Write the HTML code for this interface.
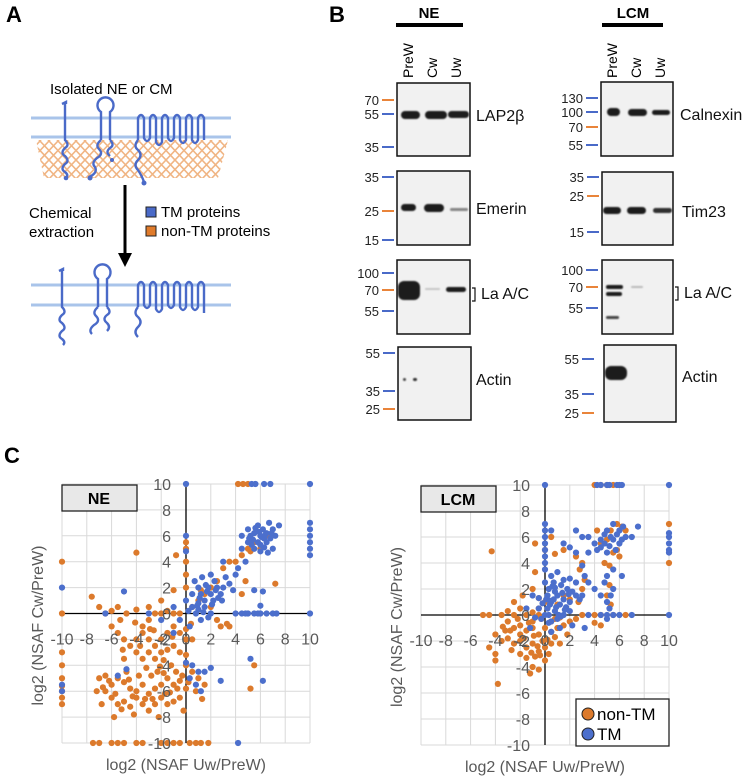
<!DOCTYPE html>
<html><head><meta charset="utf-8"><style>
body{margin:0;background:#fff;}
svg{display:block;font-family:"Liberation Sans",Arial,sans-serif;}
</style></head><body>
<svg id="fig" width="747" height="779" viewBox="0 0 747 779" xmlns="http://www.w3.org/2000/svg">
<defs>
<filter id="bl" x="-50%" y="-100%" width="200%" height="300%"><feGaussianBlur stdDeviation="0.9"/></filter>
<clipPath id="meshclip"><polygon points="36,140 228,140 218,178 44,178"/></clipPath>
</defs>

<!-- Panel A -->
<g>
<text x="6" y="22" font-size="22" font-weight="bold">A</text>
<text x="50" y="94" font-size="15">Isolated NE or CM</text>
<g id="mesh" clip-path="url(#meshclip)" stroke="#f0b584" stroke-width="1.6"></g>
<g stroke="#a9c4ea" stroke-width="3">
<line x1="31" y1="118" x2="231" y2="118"/><line x1="31" y1="137" x2="231" y2="137"/></g>
<g fill="none" stroke="#4a6ac8" stroke-width="2.4">
<path d="M62,104 l4,-2 l0,2 M65,104 V140 q5,5 0,8 q-5,5 0,8 q5,5 0,8 q-5,5 0,8 q4,3 1,6"/>
<path d="M101,140 V112 a8,8 0 1 1 9,0 V140"/>
<path d="M101,140 q-6,5 -2,9 q5,5 -2,9 q-6,5 -2,9 q3,6 -6,10"/>
<path d="M110,140 q5,5 0,8 q-5,4 0,8"/>
<path d="M138,140 V118 q3,-6 6,0 V138 q3,6 6,0 V118 q3,-6 6,0 V142 q3,6 6,0 V118 q3,-6 6,0 V138 q3,6 6,0 V118 q3,-6 6,0 V140 q3,6 6,0 V118 q3,-6 6,0 V140 q3,6 6,0 V118 q3,-6 6,0 V140"/>
<path d="M138,140 q-5,6 0,10 q5,5 0,10 q-5,5 0,10 q4,6 6,12"/>
</g>
<g fill="#4a6ac8"><circle cx="66" cy="178" r="2.3"/><circle cx="90" cy="178" r="2.5"/><circle cx="112" cy="160" r="2"/><circle cx="144" cy="183" r="2.5"/></g>
<line x1="125" y1="185" x2="125" y2="255" stroke="#000" stroke-width="3"/>
<polygon points="118,253 132,253 125,267" fill="#000"/>
<text x="29" y="218" font-size="15"><tspan x="29">Chemical</tspan><tspan x="29" dy="19">extraction</tspan></text>
<rect x="146" y="207" width="10" height="10" fill="#4a6ac8" stroke="#222" stroke-width="1"/>
<text x="161" y="217" font-size="15">TM proteins</text>
<rect x="146" y="226" width="10" height="10" fill="#e07b2b" stroke="#222" stroke-width="1"/>
<text x="161" y="236" font-size="15">non-TM proteins</text>
<g stroke="#a9c4ea" stroke-width="3">
<line x1="31" y1="285" x2="231" y2="285"/><line x1="31" y1="305" x2="231" y2="305"/></g>
<g fill="none" stroke="#4a6ac8" stroke-width="2.4" transform="translate(-3,167)">
<path d="M62,104 l4,-2 l0,2 M65,104 V140 q5,5 0,8 q-5,5 0,8 q5,5 0,8 q-5,5 0,8 q4,3 1,6"/>
<path d="M101,140 V112 a8,8 0 1 1 9,0 V140"/>
<path d="M101,140 q-6,5 -2,9 q5,5 -2,9 q-6,5 -2,9"/>
<path d="M110,140 q5,5 0,8 q-5,4 0,8 q4,4 0,8"/>
<path d="M141,140 V118 q3,-6 6,0 V138 q3,6 6,0 V118 q3,-6 6,0 V142 q3,6 6,0 V118 q3,-6 6,0 V138 q3,6 6,0 V118 q3,-6 6,0 V140 q3,6 6,0 V118 q3,-6 6,0 V140 q3,6 6,0 V118 q3,-6 6,0 V146"/>
<path d="M141,140 q-5,6 0,10 q5,5 0,10 q-5,5 0,10"/>
</g>
</g>

<!-- Panel B -->
<g id="panelB">
<text x="329" y="22" font-size="22" font-weight="bold">B</text>
<text x="429" y="18" font-size="15" font-weight="bold" text-anchor="middle">NE</text>
<rect x="396" y="23" width="67" height="4" fill="#000"/>
<text x="633" y="18" font-size="15" font-weight="bold" text-anchor="middle">LCM</text>
<rect x="602" y="23" width="61" height="4" fill="#000"/>
</g>

<!-- Panel C -->
<g>
<text x="4" y="463" font-size="22" font-weight="bold">C</text>
</g>
<g id="plotNE"></g>
<g id="plotLCM"></g>
</svg>
<script>
const NS="http://www.w3.org/2000/svg";
function mk(tag,attrs,parent){const e=document.createElementNS(NS,tag);for(const k in attrs)e.setAttribute(k,attrs[k]);parent.appendChild(e);return e;}

const mesh=document.getElementById('mesh');
for(let i=-60;i<=260;i+=9){mk('line',{x1:i,y1:140,x2:i+38,y2:180},mesh);mk('line',{x1:i+38,y1:140,x2:i,y2:180},mesh);}

const pb=document.getElementById('panelB');
const lanes=[["PreW",408,612],["Cw",432,636],["Uw",456,660]];
lanes.forEach(l=>{
  let t=mk('text',{x:0,y:0,'font-size':14,transform:`translate(${l[1]+5},78) rotate(-90)`},pb);t.textContent=l[0];
  
  
  t=mk('text',{x:0,y:0,'font-size':14,transform:`translate(${l[2]+5},78) rotate(-90)`},pb);t.textContent=l[0];
  
  
});
const blotBoxes=[
 {x:397,y:83,w:73,h:73,name:"LAP2β",lx:476,ly:121,mk:[["70",100,"o"],["55",114,"b"],["35",147,"b"]],tx:394,bands:[[401,111,19,8,1],[425,111,22,8,1],[448,111,21,7,1]]},
 {x:397,y:171,w:73,h:74,name:"Emerin",lx:476,ly:214,mk:[["35",177,"b"],["25",211,"o"],["15",240,"b"]],tx:394,bands:[[401,204,15,7,1],[424,204,20,8,1],[450,208,18,3,0.5]]},
 {x:397,y:260,w:73,h:74,name:"La A/C",lx:481,ly:299,br:true,mk:[["100",273,"b"],["70",290,"o"],["55",311,"b"]],tx:394,bands:[[398,281,22,19,1],[425,288,15,2,0.2],[446,287,20,5,1]]},
 {x:398,y:347,w:73,h:73,name:"Actin",lx:476,ly:385,mk:[["55",353,"b"],["35",391,"b"],["25",409,"o"]],tx:395,bands:[[403,378,3,3,0.8],[413,378,4,3,0.9]]},
 {x:601,y:82,w:72,h:74,name:"Calnexin",lx:680,ly:120,mk:[["130",98,"b"],["100",112,"b"],["70",127,"o"],["55",145,"b"]],tx:598,bands:[[607,108,13,8,1],[628,109,19,7,1],[652,110,18,5,1]]},
 {x:602,y:172,w:71,h:73,name:"Tim23",lx:682,ly:217,mk:[["35",177,"b"],["25",196,"o"],["15",232,"b"]],tx:599,bands:[[603,207,18,7,1],[627,207,19,7,1],[653,208,19,5,0.9]]},
 {x:602,y:260,w:71,h:74,name:"La A/C",lx:684,ly:298,br:true,mk:[["100",270,"b"],["70",287,"o"],["55",308,"b"]],tx:598,bands:[[606,285,17,4,1],[606,292,16,4,1],[606,316,13,3,0.8],[631,286,12,2,0.25]]},
 {x:604,y:345,w:72,h:77,name:"Actin",lx:682,ly:382,mk:[["55",359,"b"],["35",394,"b"],["25",413,"o"]],tx:594,bands:[[605,366,22,14,1]]}
];
blotBoxes.forEach(b=>{
  const r=mk('rect',{x:b.x,y:b.y,width:b.w,height:b.h,fill:"#f1f1f1",stroke:"#111","stroke-width":1.5},pb);
  
  
  b.bands.forEach(d=>{mk('rect',{x:d[0],y:d[1],width:d[2],height:d[3],rx:Math.min(d[3]/2,6),fill:"#1e1e1e",opacity:d[4],filter:"url(#bl)"},pb);});
  b.mk.forEach(m=>{
    mk('line',{x1:b.tx-12,y1:m[1],x2:b.tx,y2:m[1],stroke:m[2]=="o"?"#e9843a":"#4a6ac8","stroke-width":2},pb);
    const t=mk('text',{x:b.tx-15,y:m[1]+5,'font-size':13,'text-anchor':'end',fill:"#222"},pb);t.textContent=m[0];
    
    
  });
  if(b.br){mk('path',{d:`M${b.lx-9},${b.ly-11} h3 v13 h-3`,fill:"none",stroke:"#111","stroke-width":1.2},pb);}
  const t=mk('text',{x:b.lx,y:b.ly,'font-size':16,fill:"#111"},pb);t.textContent=b.name;
  
  
});

// ---- Chart data ----
const tickValues=[-10,-8,-6,-4,-2,0,2,4,6,8,10];
const tickLabels=["-10","-8","-6","-4","-2","0","2","4","6","8","10"];
const neOrangeX=[-10,-10,-10,-10,-10,-10,-10,-10,-10,-7.5,-7,-6,-5.5,-5,-4,-3.5,-2,-1.5,-1,-0.5,0.3,0.8,1.2,1.8,4.2,4.6,5,-7.6,-7,-6.5,-6,-5.5,-5.3,-4.8,-4,-3.5,-3,-2.5,-2,-1.5,-1,-0.5,-6,-5.5,-5,-4.5,-4,-3.5,-3,-2.5,-2,-1.5,-1,-0.5,0,0.5,-3,-2.5,-2,-1.5,-1,-0.5,0,-4,-3.5,-5,-1.2,-2.3,-7,-6.5,-6,-5.5,-5,-4.5,-4,-3.5,-3,-2.5,-2,-1.5,-1,-0.5,0,-6.5,-6,-5.5,-5,-4.5,-4,-3.5,-3,-2.5,-2,-1.5,-1,-0.5,-6.8,-7.2,-4.8,-3.8,-2.8,-1.8,-0.8,0.5,1,1.5,0.8,-0.2,-2.2,-5.8,-4.2,-4,-0.8,0,0,0,0,0,0,0,0.5,1,1.5,2,2.5,3,3.5,4,4.5,5,5.5,6,6.5,5.2,2.5,3.3,3.5,4.5,4.8,7.2,5.2,5.5,2,1.2,2.8,-1,-2,-3,-6.2,-5.7,-4.3,-3.2,-2.7,-1.7,-0.7,-0.3,0.2,-5.2,-4.6,-3.3,-1.3,-2.1,-6.7,-3.7,-2.6,-1.1,0.4,1.3,-1.8,-2.9,-4.1,-5.1];
const neOrangeY=[4,0,-3,-4,-5,-5.6,-6,-6.5,-7,-10,-10,-10,-10,-10,-10,-10,-10,-10,-10,-10,-10,-10,-10,-10,10,10,10,1.3,0.5,0,0.2,0.5,-0.5,0,0.3,-1,0.5,0,0,0.2,0,0,-1,-1.5,-2,-2.5,-2,-1.5,-2,-2.5,-2,-1.5,-1,-1.5,-1.2,-2,-3,-3.5,-3,-2.8,-2.5,-3,-3.2,-3,-3.5,-3.5,-4,-4.5,-5,-4.8,-5.5,-5,-5.3,-5.8,-6,-5.5,-6.2,-5.8,-5.5,-5,-5.5,-5.2,-5.8,-6,-6.5,-7,-6.8,-7.2,-6.5,-7,-7.5,-7,-6.5,-7,-6.8,-6.5,-7,-6,-4.5,-4.8,-4.8,-4.6,-4.5,-4.5,-5,-5.5,-6,-7.5,-8,-8,-7.8,4.7,4.5,5,5.5,4,3,2,-2,-4,0.5,1,1.5,2,2.5,3.5,4,4,4.5,5,5.5,5,6,4.8,-0.5,-0.8,-1,1.5,2.5,2.3,-5.8,-4,0.5,1.8,-1,1.8,1,-0.5,-5.2,-6.2,-6.4,-4.2,-6.6,-6.2,-5.8,-4.8,-5.3,-7.4,-5.1,-6.6,-6.1,-4.1,-5.7,-2.5,-1.3,-1.8,-0.8,-6.6,-3.6,-1.2,-0.7,-2.8];
const neBlueX=[0,5.3,5.6,6.3,6.8,10,10,10,10,10,10,10,10,-10,-10,-10,-5,-6.5,-3,0,0,0.5,0.8,1,1.2,1.5,1.8,2,2.2,2.5,2.8,3,1,0.5,1.5,2,1.8,2.3,2.6,3.2,3.5,4,4.2,3.8,1.2,0.3,-0.5,-1,0.7,1.3,2,1.7,1,0.2,3,4.5,4.5,5,5.2,5.5,5.5,5.8,6,6,6.2,6.3,6.5,6.5,6.7,6.8,7,7.2,7.5,5,5.8,6,7,4.8,5.3,6.6,4,4.5,5,5.5,6,6.5,7,7.3,4.8,5.8,0,0.5,1,1.5,2,0.8,0.3,1.2,-4.8,-5.5,5.2,6.2,2.8,4.2,5.5,6.2,6,0,-2,-1,5.4,5.9,6.1,6.4,5.6,6.9,5.1,6.3,2.1,2.4,1.1,1.6,0.9,2.9,1.4];
const neBlueY=[10,10,10,10,10,10,7,6.5,6,5.5,5,4.5,0,2,-5.5,-6,1.7,0,0,6,1,0.5,0,0.8,1.5,1,2,1.5,1,2,1.5,2,2,1.5,0.5,0,-0.3,2.5,1.2,2.8,2.3,3,3.5,1.8,-0.5,-1,-0.5,0.5,2.5,2.8,3,1.7,0.3,0.2,4,5,6,5.5,6,5,6.2,5.5,6,5.3,6.5,5.8,5.5,6.2,7,5.8,6.5,6,6.8,6.5,6.8,4.8,5,4,5.3,4.7,0,0,0,0,0,0,0,0,0,0,-3.8,-4,-4.5,-4.5,-4.2,-5.5,-5,-6,-4.3,-4.8,-3.5,-5.2,-5.2,-10,1.8,1.7,0.6,4.8,-0.5,-1.5,5.7,6.3,5.9,6.1,6.6,6.2,5.8,5.1,0.7,1.8,1.2,2.2,0.6,1,0.1];
const lcmOrangeX=[4,4.5,5,5.5,10,10,-5,-4.5,-3.5,-3,-2.5,-2,-1.5,-1,-0.5,-3,-2.5,-2,-1.5,-1,-0.5,0,0.5,1,1.5,-4,-3.5,-3,-2.5,-2,-1.5,-1,-0.5,0,0.3,0.5,-4.5,-4,-2,-1.5,-0.8,0,-4,-1.2,-1,-0.5,-3.8,-2,-1,-0.5,0.8,1.2,2,2.5,-2.5,-1.8,-1,-0.5,0,-4.3,-0.8,-0.8,0,0.8,1.5,2.5,3,0.5,4.2,5,5.3,5.8,6.2,6.5,5.5,4.8,5.2,5.8,6,4.5,2.8,3.2,3,2.7,3,4,4.5,5.5,6.5,5,5.2,5.3,4.5,4,1.5,1,2,0.5,-0.3,-3.2,-2.7,-0.2,1.8,1.2,0.8,-2.2,-1.7,-1.3,-0.9,-0.6,-2.8,-3.4,-1.1,0.2,-0.4];
const lcmOrangeY=[10,10,10,10,7,4,0,0,0,0.3,0,0.5,0,0.2,0.5,-0.5,-1,-0.8,-1.2,-1,-1.5,-1,-1.3,-1,-0.8,-1.5,-2,-1.8,-2.2,-2,-2.5,-2.2,-2.8,-2.5,-3,-2.2,-2.5,-3,-3,-3.3,-3.2,-3.5,-3.5,-4.5,-4,-4.2,-5.3,-1.5,-0.5,0,-0.3,-0.2,-0.5,-0.3,1,1.5,2,1.3,1,4.9,3.3,5.5,5,4.7,5,4.5,4,6,6.5,5.8,6.5,7,6.8,6.5,4.8,4,3.8,5,4.5,5.5,3.5,2.7,2,1,0,0,0,0,0,1.5,2.3,0.8,-0.8,-0.6,1.5,0.8,1.2,-0.5,-0.3,-1.2,-2.7,-2,-1.5,-2.2,-1.7,-0.3,-1.8,-0.6,-1.6,-2.4,-1.2,-0.9,-2.9,-1.9,-3.1];
const lcmBlueX=[0,4.2,4.5,5,5.2,5.8,6,6.2,10,10,10,10,10,10,10,0,0,0,0,0,0,0,0.5,1.5,2.5,3,2,2.5,3.5,4,4.5,5,5.5,6,6.5,7,7.5,4.2,4.5,4.8,5,5.2,5.5,5.8,6,6.2,5.3,5.7,6.3,4.8,3.5,3,3.2,3.5,3,4,4.5,5,5.2,4.8,5.5,5,5.5,5.3,5,4.5,5,5.5,6,3.5,7,6.2,3.2,0,0.2,0.5,0.8,1,1.2,1.5,1.8,2,2.2,2.5,0.3,0.7,1.3,-0.5,-1,0,0.5,1,-0.3,0.5,1,1.5,2,0.2,0.8,-0.5,0.3,1.7,2.8,2.5,1.5,0.5,-1.2,1.2,2.2,0.7,1.1,-0.8,0,2,-1.5,0.4,0.9,1.4,0.1,0.6,1.6,-0.2,0.3,0.8,1.9,0.4,1.3];
const lcmBlueY=[10,10,10,10,10,10,10,10,10,6.3,6,5.5,5,4.8,0,7,6.5,6,5.5,5,4.5,4,6.5,5.5,6.5,6,5.2,4.8,6,5.5,5.8,6.5,7,6.5,6,6,6.8,5,5.2,5.5,4.8,5.3,5.8,6.2,5.5,5.8,6,5,6.8,6.2,4.8,3.8,3,2.5,1.5,2,1.5,1,0.5,2.5,2,3,3.5,1.5,-0.3,0,0,0,0,0,0,3,-1,0,0.5,1,0.3,1.5,0.8,1.2,2,1,1.8,1.5,2,2.5,2.3,1.3,1.5,2.5,3,3.3,-0.3,-0.5,-0.3,0,0.3,1.5,1.8,0.5,0,0.6,1.2,2.5,2.7,-1.3,-1,-1,-0.8,1.2,0,-0.2,3.5,2.8,0.5,0.8,0.6,1.7,1.2,2.2,0.4,0.9,-0.6,2.1,1.6,1.1,-0.1];

const ORANGE="#dc7a2c", BLUE="#4c6fcc";

function drawPlot(g,box,label,oX,oY,bX,bY,legend){
  const sx=v=>box.x0+(v+10)/20*(box.x1-box.x0);
  const sy=v=>box.y1-(v+10)/20*(box.y1-box.y0);
  tickValues.forEach(v=>{
    mk('line',{x1:sx(v),y1:box.y0,x2:sx(v),y2:box.y1,stroke:"#d9d9d9","stroke-width":1},g);
    mk('line',{x1:box.x0,y1:sy(v),x2:box.x1,y2:sy(v),stroke:"#d9d9d9","stroke-width":1},g);
  });
  mk('line',{x1:sx(0),y1:box.y0,x2:sx(0),y2:box.y1,stroke:"#000","stroke-width":1.3},g);
  mk('line',{x1:box.x0,y1:sy(0),x2:box.x1,y2:sy(0),stroke:"#000","stroke-width":1.3},g);
  const dot=(x,y,c,nm)=>{const d=mk('circle',{cx:sx(x),cy:sy(y),r:3.1,fill:c},g);
    
    };
  oX.forEach((x,i)=>dot(x,oY[i],ORANGE,'point-non-tm'));
  bX.forEach((x,i)=>dot(x,bY[i],BLUE,'point-tm'));
  tickValues.forEach((v,i)=>{
    const t=mk('text',{x:sx(v),y:sy(0)+31,'font-size':16,'text-anchor':'middle',fill:"#595959"},g);t.textContent=tickLabels[i];
    
    
    const u=mk('text',{x:sx(0)-15,y:sy(v)+6,'font-size':16,'text-anchor':'end',fill:"#595959"},g);u.textContent=tickLabels[i];
    
    
  });
  const lb=mk('rect',{x:box.x0,y:box.y0+1,width:75,height:26,fill:"#e8e8e8",stroke:"#222","stroke-width":1.3},g);
  
  
  const lt=mk('text',{x:box.x0+37,y:box.y0+20,'font-size':16,'font-weight':'bold','text-anchor':'middle'},g);lt.textContent=label;
  
  
  const xt=mk('text',{x:(box.x0+box.x1)/2,y:box.y1+27,'font-size':16,'text-anchor':'middle',fill:"#595959"},g);xt.textContent="log2 (NSAF Uw/PreW)";
  
  
  const yt=mk('text',{x:0,y:0,'font-size':16,'text-anchor':'middle',fill:"#595959",transform:`translate(${box.x0-19},${(box.y0+box.y1)/2+12}) rotate(-90)`},g);yt.textContent="log2 (NSAF Cw/PreW)";
  
  
  if(legend){
    const lg=mk('rect',{x:576,y:699,width:93,height:47,fill:"#fff",stroke:"#222","stroke-width":1.3},g);
    
    
    mk('circle',{cx:588,cy:714,r:6,fill:ORANGE,stroke:"#222","stroke-width":1},g);
    mk('circle',{cx:588,cy:734,r:6,fill:BLUE,stroke:"#222","stroke-width":1},g);
    let t=mk('text',{x:597,y:720,'font-size':17},g);t.textContent="non-TM";
    
    
    t=mk('text',{x:597,y:740,'font-size':17},g);t.textContent="TM";
    
    
  }
}
drawPlot(document.getElementById('plotNE'),{x0:62,x1:310,y0:484,y1:743},"NE",neOrangeX,neOrangeY,neBlueX,neBlueY,false);
drawPlot(document.getElementById('plotLCM'),{x0:421,x1:669,y0:485,y1:745},"LCM",lcmOrangeX,lcmOrangeY,lcmBlueX,lcmBlueY,true);
</script>
</body></html>
